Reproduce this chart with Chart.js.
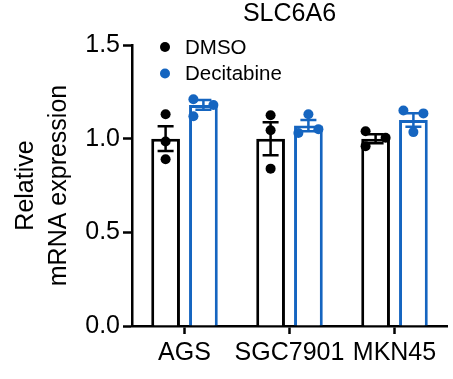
<!DOCTYPE html>
<html>
<head>
<meta charset="utf-8">
<script src="https://cdn.jsdelivr.net/npm/chart.js@4.4.1/dist/chart.umd.min.js"></script>
<style>
  html, body { margin: 0; padding: 0; background: #ffffff; }
  #wrap { width: 453px; height: 379px; position: relative; }
</style>
</head>
<body>
<div id="wrap"><canvas id="c" width="453" height="379"></canvas></div>
<script>
// ---------- data ----------
const chartTitle = 'SLC6A6';
const categories = ['AGS', 'SGC7901', 'MKN45'];
const seriesNames = ['DMSO', 'Decitabine'];
const yTicks = [0, 0.5, 1.0, 1.5];

const dmsoMean = [1.00, 1.00, 1.00];
const dmsoSem = [0.066, 0.088, 0.024];
const decMean = [1.18, 1.07, 1.10];
const decSem = [0.026, 0.030, 0.036];

// individual replicate points, one list per category
const dmsoPoints = [[1.13, 0.985, 0.89], [1.125, 1.045, 0.84], [1.04, 1.005, 0.96]];
const decPoints = [[1.21, 1.18, 1.12], [1.13, 1.05, 1.03], [1.15, 1.135, 1.035]];
// beeswarm side of each point (-1 left, 0 centre, 1 right)
const dmsoSide = [[0, 0, 0], [0, 0, 0], [-1, 1, -1]];
const decSide = [[-1, 1, -1], [0, 1, -1], [-1, 1, 0]];

// ---------- style ----------
const FONT = 'Liberation Sans, Arial, Helvetica, sans-serif';
const BLACK = '#000000';
const BLUE = '#1565c0';
const catPct = 0.72;
const barPct = 0.76;
const dotSpread = 10; // px between swarm columns
const dotRadius = 5;

// error bars and replicate dots, positioned from the bar elements and the y scale
const barExtras = {
  id: 'barExtras',
  afterDatasetsDraw(chart) {
    const ctx = chart.ctx;
    const y = chart.scales.y;
    ctx.save();
    chart.data.datasets.forEach((ds, di) => {
      const meta = chart.getDatasetMeta(di);
      ctx.strokeStyle = ds.borderColor;
      ctx.fillStyle = ds.borderColor;
      ctx.lineWidth = 2.5;
      meta.data.forEach((bar, i) => {
        const x = bar.x;
        const yt = y.getPixelForValue(ds.data[i] + ds.sem[i]);
        const yb = y.getPixelForValue(ds.data[i] - ds.sem[i]);
        ctx.beginPath();
        ctx.moveTo(x, yt); ctx.lineTo(x, yb);
        ctx.moveTo(x - 8, yt); ctx.lineTo(x + 8, yt);
        ctx.moveTo(x - 8, yb); ctx.lineTo(x + 8, yb);
        ctx.stroke();
      });
      meta.data.forEach((bar, i) => {
        ds.points[i].forEach((v, k) => {
          ctx.beginPath();
          ctx.arc(bar.x + ds.sides[i][k] * dotSpread, y.getPixelForValue(v), dotRadius, 0, Math.PI * 2);
          ctx.fill();
        });
      });
    });
    ctx.restore();
  }
};

const titleAndLegend = {
  id: 'titleAndLegend',
  afterDraw(chart) {
    const ctx = chart.ctx;
    const a = chart.chartArea;
    ctx.save();
    ctx.fillStyle = BLACK;
    ctx.font = '25px ' + FONT;
    ctx.textAlign = 'center';
    ctx.textBaseline = 'middle';
    ctx.fillText(chartTitle, (a.left + a.right) / 2, 14);
    const colors = [BLACK, BLUE];
    ctx.font = '20.5px ' + FONT;
    ctx.textAlign = 'left';
    seriesNames.forEach((name, i) => {
      const yy = 47 + i * 26.5;
      ctx.beginPath();
      ctx.fillStyle = colors[i];
      ctx.arc(a.left + 33, yy, 5, 0, Math.PI * 2);
      ctx.fill();
      ctx.fillStyle = BLACK;
      ctx.fillText(name, a.left + 53, yy + 1);
    });
    ctx.restore();
  }
};

new Chart(document.getElementById('c'), {
  type: 'bar',
  data: {
    labels: categories,
    datasets: [
      {
        label: seriesNames[0], data: dmsoMean, sem: dmsoSem, points: dmsoPoints, sides: dmsoSide,
        backgroundColor: '#ffffff', borderColor: BLACK, borderWidth: 3,
        categoryPercentage: catPct, barPercentage: barPct
      },
      {
        label: seriesNames[1], data: decMean, sem: decSem, points: decPoints, sides: decSide,
        backgroundColor: '#ffffff', borderColor: BLUE, borderWidth: 3,
        categoryPercentage: catPct, barPercentage: barPct
      }
    ]
  },
  options: {
    responsive: false,
    animation: false,
    devicePixelRatio: 1,
    layout: { padding: { left: 0, right: 6, top: 45, bottom: 0 } },
    plugins: { legend: { display: false }, title: { display: false }, tooltip: { enabled: false } },
    scales: {
      x: {
        type: 'category',
        grid: { offset: false, drawOnChartArea: false, drawTicks: true, tickLength: 8, tickWidth: 2.5, tickColor: BLACK },
        border: { display: true, color: BLACK, width: 2.5 },
        ticks: { color: BLACK, font: { family: FONT, size: 25 }, padding: 4, maxRotation: 0, autoSkip: false },
        afterFit(s) { s.height = 53; }
      },
      y: {
        min: 0, max: 1.5,
        afterBuildTicks(s) { s.ticks = yTicks.map(v => ({ value: v })); },
        grid: { drawOnChartArea: false, drawTicks: true, tickLength: 9, tickWidth: 2.5, tickColor: BLACK },
        border: { display: true, color: BLACK, width: 2.5 },
        ticks: { color: BLACK, font: { family: FONT, size: 25 }, padding: 3, callback: v => Number(v).toFixed(1) },
        title: {
          display: true, text: ['Relative', 'mRNA expression'], color: BLACK,
          font: { family: FONT, size: 25, lineHeight: 1.3 }, padding: { top: 10, bottom: 0 }
        },
        afterFit(s) { s.width = 132; }
      }
    }
  },
  plugins: [barExtras, titleAndLegend]
});
</script>
</body>
</html>
